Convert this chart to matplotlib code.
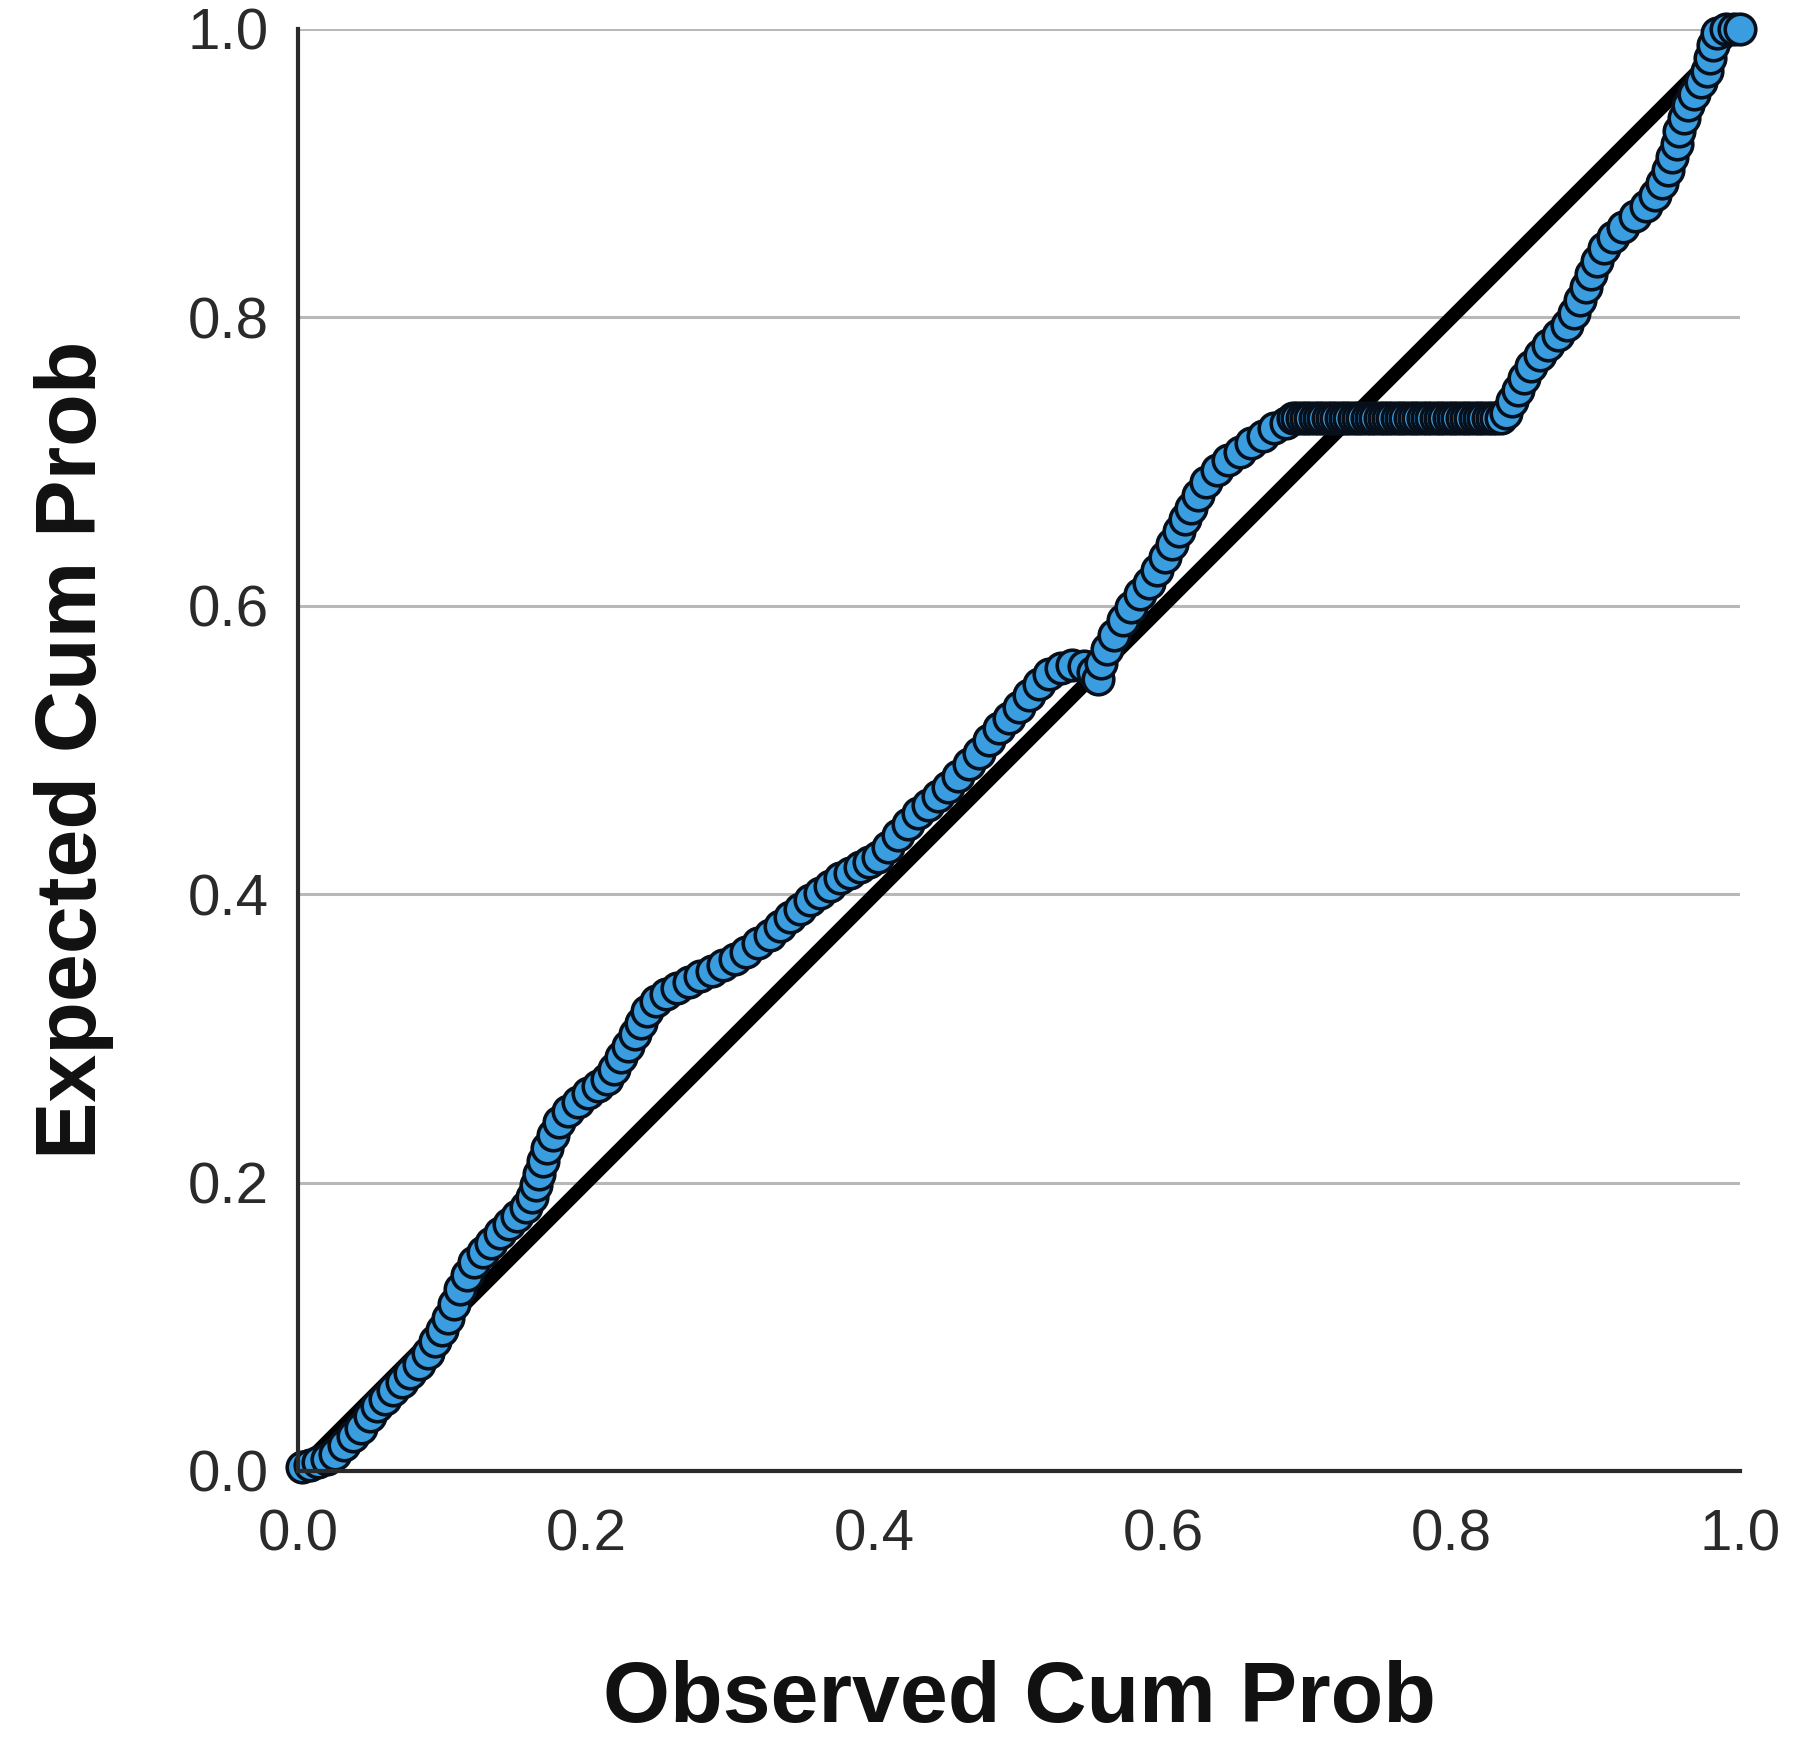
import numpy as np
import matplotlib.pyplot as plt

# observed vs expected cumulative probability
obs_cum = [
    0.003, 0.008, 0.014, 0.020, 0.026, 0.032, 0.038, 0.044, 0.050, 0.055,
    0.060, 0.066, 0.072, 0.078, 0.084, 0.090, 0.095, 0.100, 0.104, 0.108,
    0.112, 0.117, 0.122, 0.128, 0.134, 0.140, 0.146, 0.152, 0.158, 0.162,
    0.165, 0.167, 0.170, 0.173, 0.177, 0.181, 0.187, 0.194, 0.201, 0.208,
    0.214, 0.219, 0.224, 0.229, 0.234, 0.238, 0.242, 0.248, 0.255, 0.263,
    0.271, 0.279, 0.287, 0.295, 0.303, 0.311, 0.319, 0.327, 0.334, 0.341,
    0.348, 0.355, 0.362, 0.369, 0.376, 0.383, 0.390, 0.396,
    0.402, 0.409, 0.416, 0.423, 0.430, 0.437, 0.444, 0.451, 0.458, 0.465,
    0.472, 0.479, 0.486, 0.493, 0.500, 0.507, 0.514, 0.521, 0.529, 0.537,
    0.545, 0.551, 0.555, 0.557, 0.561, 0.566, 0.572, 0.578, 0.584, 0.590,
    0.596, 0.601, 0.606, 0.611, 0.615, 0.619, 0.624, 0.630, 0.637, 0.645,
    0.653, 0.661, 0.669, 0.677, 0.685,
    # tied block
    0.690, 0.693, 0.696, 0.699, 0.702, 0.705, 0.708, 0.711, 0.714, 0.717,
    0.720, 0.723, 0.726, 0.729, 0.732, 0.735, 0.738, 0.741, 0.744, 0.747,
    0.750, 0.753, 0.756, 0.759, 0.762, 0.765, 0.768, 0.771, 0.774, 0.777,
    0.780, 0.783, 0.786, 0.789, 0.792, 0.795, 0.798, 0.801, 0.804, 0.807,
    0.810, 0.813, 0.816, 0.819, 0.822, 0.825, 0.828, 0.831, 0.834,
    0.838, 0.842, 0.846, 0.850, 0.855, 0.861, 0.867, 0.874, 0.880, 0.885,
    0.889, 0.893, 0.897, 0.901, 0.906, 0.912, 0.919, 0.927, 0.935, 0.941,
    0.946, 0.950, 0.953, 0.956, 0.958, 0.961, 0.964, 0.968, 0.973, 0.977,
    0.979, 0.981, 0.984, 0.990, 0.996, 1.000,
]
exp_cum = [
    0.003, 0.004, 0.006, 0.008, 0.012, 0.018, 0.024, 0.030, 0.038, 0.045,
    0.050, 0.056, 0.062, 0.068, 0.074, 0.082, 0.090, 0.098, 0.106, 0.116,
    0.126, 0.136, 0.145, 0.152, 0.158, 0.165, 0.171, 0.177, 0.183, 0.190,
    0.198, 0.206, 0.215, 0.224, 0.233, 0.242, 0.250, 0.256, 0.262, 0.267,
    0.272, 0.279, 0.287, 0.295, 0.303, 0.311, 0.319, 0.326, 0.331, 0.335,
    0.339, 0.343, 0.347, 0.351, 0.355, 0.360, 0.366, 0.372, 0.378, 0.384,
    0.390, 0.396, 0.401, 0.406, 0.411, 0.415, 0.419, 0.422,
    0.426, 0.433, 0.441, 0.449, 0.456, 0.462, 0.468, 0.474, 0.482, 0.490,
    0.498, 0.507, 0.515, 0.522, 0.530, 0.538, 0.546, 0.553, 0.557, 0.559,
    0.558, 0.554, 0.549, 0.560, 0.570, 0.580, 0.590, 0.599, 0.608, 0.616,
    0.625, 0.634, 0.643, 0.652, 0.660, 0.668, 0.677, 0.686, 0.694, 0.701,
    0.707, 0.713, 0.718, 0.723, 0.727,
    # tied block
    0.730, 0.730, 0.730, 0.730, 0.730, 0.730, 0.730, 0.730, 0.730, 0.730,
    0.730, 0.730, 0.730, 0.730, 0.730, 0.730, 0.730, 0.730, 0.730, 0.730,
    0.730, 0.730, 0.730, 0.730, 0.730, 0.730, 0.730, 0.730, 0.730, 0.730,
    0.730, 0.730, 0.730, 0.730, 0.730, 0.730, 0.730, 0.730, 0.730, 0.730,
    0.730, 0.730, 0.730, 0.730, 0.730, 0.730, 0.730, 0.730, 0.730,
    0.734, 0.742, 0.750, 0.758, 0.766, 0.774, 0.781, 0.788, 0.795, 0.803,
    0.812, 0.821, 0.830, 0.839, 0.848, 0.856, 0.863, 0.870, 0.877, 0.885,
    0.893, 0.902, 0.911, 0.920, 0.929, 0.938, 0.947, 0.955, 0.963, 0.971,
    0.980, 0.989, 0.997, 1.000, 1.000, 1.000,
]
ticks = [0.0, 0.2, 0.4, 0.6, 0.8, 1.0]
tick_labels = ['0.0', '0.2', '0.4', '0.6', '0.8', '1.0']

plt.rcParams['font.family'] = ['Liberation Sans', 'DejaVu Sans']

W, H = 1813, 1747
fig = plt.figure(figsize=(W / 100, H / 100), dpi=100)
ax = fig.add_axes([298 / W, (H - 1471) / H, 1442 / W, 1442 / H])

# diagonal reference line
ax.plot([0, 1], [0, 1], color='black', lw=10, solid_capstyle='butt', zorder=2)

ax.plot(obs_cum, exp_cum, linestyle='none', marker='o', markersize=22,
        markerfacecolor='#3a9de0', markeredgecolor='#07101a',
        markeredgewidth=2.6, zorder=3, clip_on=False)

ax.set_xlim(0, 1)
ax.set_ylim(0, 1)
ax.set_xticks(ticks)
ax.set_xticklabels(tick_labels)
ax.set_yticks(ticks)
ax.set_yticklabels(tick_labels)
ax.tick_params(axis='both', length=0, labelsize=42, labelcolor='#2a2a2a')
ax.tick_params(axis='x', pad=27)
ax.tick_params(axis='y', pad=21)

ax.yaxis.grid(True, color='#b8b8b8', lw=2.2)
ax.set_axisbelow(True)
for s in ['top', 'right']:
    ax.spines[s].set_visible(False)
for s in ['left', 'bottom']:
    ax.spines[s].set_color('#2a2a2a')
    ax.spines[s].set_linewidth(3)
    ax.spines[s].set_zorder(4)

fig.text(1019 / W, (H - 1722) / H, 'Observed Cum Prob', ha='center',
         va='baseline', fontsize=62, fontweight='bold', color='#111111')
fig.text(96 / W, (H - 750) / H, 'Expected Cum Prob', ha='center',
         va='baseline', rotation=90, rotation_mode='anchor',
         fontsize=62, fontweight='bold', color='#111111')

fig.savefig('out.png', dpi=100)
